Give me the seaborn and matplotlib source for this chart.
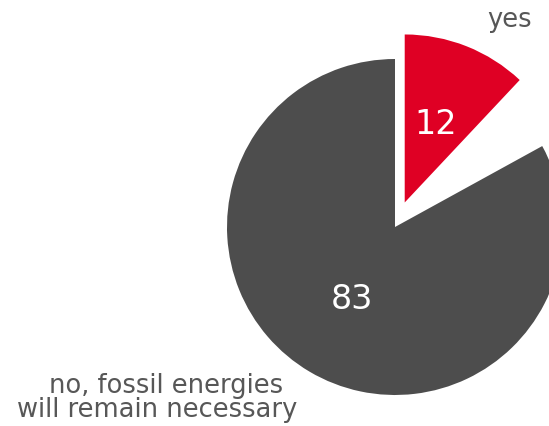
import seaborn as sns
import matplotlib.pyplot as plt

# survey answers (percent); the 5 % remainder is left blank in the chart
answers = ["yes", "no answer", "no, fossil energies\nwill remain necessary"]
shares = [12, 5, 83]
slice_colors = ["#df0024", "white", "#4d4d4d"]
explode = [0.157, 0, 0]


def main():
    sns.set_theme(style="white")
    plt.rcParams["font.family"] = ["DejaVu Sans"]

    fig = plt.figure(figsize=(5.49, 4.26), dpi=100)
    ax = fig.add_axes([0, 0, 1, 1])
    ax.pie(
        shares,
        colors=slice_colors,
        explode=explode,
        startangle=90,
        counterclock=False,
        radius=1,
        autopct=lambda p: f"{p:.0f}" if p > 6 else "",
        pctdistance=0.5,
        textprops={"color": "white", "fontsize": 24},
        wedgeprops={"linewidth": 0, "edgecolor": "none"},
    )
    ax.set_xlim(-395 / 168, 154 / 168)
    ax.set_ylim(-199 / 168, 227 / 168)
    ax.set_aspect("auto")
    ax.axis("off")

    label_color = "#575757"
    ax.text(0.815, 1.19, answers[0], ha="right", va="baseline",
            fontsize=18.5, color=label_color)
    line1, line2 = answers[2].split("\n")
    ax.text(-0.667, -0.988, line1, ha="right", va="baseline",
            fontsize=18.5, color=label_color)
    ax.text(-0.583, -1.131, line2, ha="right", va="baseline",
            fontsize=18.5, color=label_color)

    fig.savefig("out.png", dpi=100)


if __name__ == "__main__":
    main()
